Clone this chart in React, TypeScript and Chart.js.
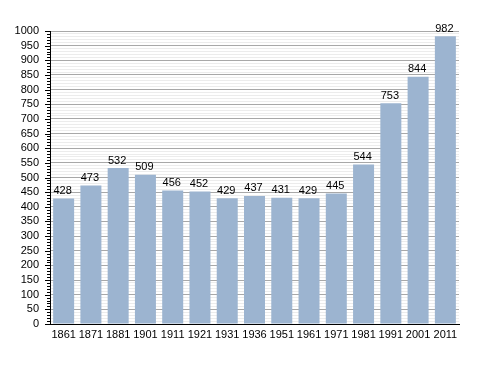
import React, { useEffect, useRef } from "react";
import { Chart, registerables } from "chart.js";

Chart.register(...registerables);

const years = ["1861", "1871", "1881", "1901", "1911", "1921", "1931", "1936", "1951", "1961", "1971", "1981", "1991", "2001", "2011"];
const population = [428, 473, 532, 509, 456, 452, 429, 437, 431, 429, 445, 544, 753, 844, 982];
const yMin = 0;
const yMax = 1000;
const yStep = 10;
const yLabelStep = 50;

const FONT = "'Liberation Sans', Arial, sans-serif";

const valueLabels = {
  id: "valueLabels",
  afterDatasetsDraw(chart: any) {
    const ctx = chart.ctx;
    const meta = chart.getDatasetMeta(0);
    ctx.save();
    ctx.font = `11px ${FONT}`;
    ctx.fillStyle = "#000";
    ctx.textAlign = "center";
    ctx.textBaseline = "bottom";
    meta.data.forEach((bar: any, i: number) => {
      ctx.fillText(String(population[i]), bar.x - 1, bar.y - 2);
    });
    ctx.restore();
  },
};

const yTickMarks = {
  id: "yTickMarks",
  afterDraw(chart: any) {
    const ctx = chart.ctx;
    const y = chart.scales.y;
    const x0 = chart.chartArea.left;
    ctx.save();
    ctx.strokeStyle = "#000";
    ctx.lineWidth = 1;
    for (let v = yMin; v <= yMax; v += yStep) {
      const py = Math.round(y.getPixelForValue(v)) + 0.5;
      const len = v % yLabelStep === 0 ? 5 : 3;
      ctx.beginPath();
      ctx.moveTo(x0 - len, py);
      ctx.lineTo(x0, py);
      ctx.stroke();
    }
    ctx.restore();
  },
};

export default function App() {
  const ref = useRef<HTMLCanvasElement>(null);
  useEffect(() => {
    if (!ref.current) return;
    const chart = new Chart(ref.current, {
      type: "bar",
      data: {
        labels: years,
        datasets: [
          {
            data: population,
            backgroundColor: "#9cb4d0",
            borderWidth: 0,
            barPercentage: 0.77,
            categoryPercentage: 1,
          },
        ],
      },
      options: {
        responsive: false,
        animation: false,
        layout: { padding: { left: 0, right: 29, top: 31, bottom: 0 } },
        plugins: {
          legend: { display: false },
          tooltip: { enabled: false },
        },
        scales: {
          x: {
            grid: { display: false, drawTicks: false },
            border: { display: true, color: "#000", width: 1 },
            ticks: { color: "#000", font: { family: FONT, size: 11 }, padding: 4, maxRotation: 0, autoSkip: false },
            afterFit(scale: any) {
              scale.height = 49;
            },
          },
          y: {
            min: yMin,
            max: yMax,
            grid: {
              drawTicks: false,
              color: (c: any) => (c.tick && c.tick.value % yLabelStep === 0 ? "#a8a8a8" : "#ececec"),
            },
            border: { display: true, color: "#000", width: 1 },
            ticks: {
              stepSize: yStep,
              autoSkip: false,
              color: "#000",
              font: { family: FONT, size: 11 },
              padding: 11,
              callback: (v: any) => (Number(v) % yLabelStep === 0 ? String(v) : ""),
            },
            afterFit(scale: any) {
              scale.width = 50;
            },
          },
        },
      },
      plugins: [valueLabels, yTickMarks],
    });
    return () => chart.destroy();
  }, []);
  return (
    <div style={{ position: "absolute", left: 0, top: 0, width: 488, height: 373, background: "#fff" }}>
      <canvas ref={ref} width={488} height={373} style={{ width: 488, height: 373 }} />
    </div>
  );
}
